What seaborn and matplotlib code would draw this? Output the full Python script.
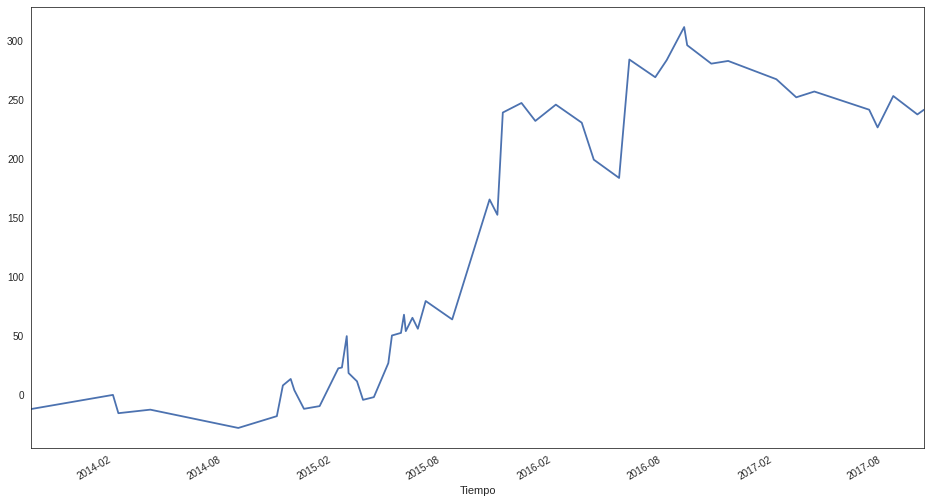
import pandas as pd
import seaborn as sns
import matplotlib
matplotlib.use("Agg")
import matplotlib.pyplot as plt
import matplotlib.dates as mdates

# values
fechas = [
    "2013-09-18", "2014-02-01", "2014-02-10", "2014-04-04", "2014-08-28",
    "2014-10-31", "2014-11-10", "2014-11-23", "2014-11-29", "2014-12-15",
    "2015-01-10", "2015-02-10", "2015-02-16", "2015-02-24", "2015-02-27",
    "2015-03-13", "2015-03-23", "2015-04-10", "2015-05-04", "2015-05-10",
    "2015-05-25", "2015-05-30", "2015-06-02", "2015-06-13", "2015-06-22",
    "2015-07-05", "2015-08-18", "2015-10-19", "2015-11-01", "2015-11-10",
    "2015-12-11", "2016-01-03", "2016-02-06", "2016-03-20", "2016-04-09",
    "2016-05-21", "2016-06-07", "2016-07-20", "2016-08-08", "2016-09-06",
    "2016-09-11", "2016-10-21", "2016-11-18", "2017-02-06", "2017-03-11",
    "2017-04-10", "2017-07-10", "2017-07-24", "2017-08-19", "2017-09-28",
    "2017-10-09",
]
valores = [
    -11.5, 0.5, -15, -12, -27.5,
    -17.5, 8.5, 14, 4.5, -11.3,
    -9, 23, 23.7, 50.3, 19,
    12, -3.7, -1.4, 27.4, 50.8,
    53, 68.4, 54.5, 65.8, 56.5,
    80, 64.4, 166, 153, 239.6,
    247.7, 232.5, 246.3, 231, 199.7,
    184.2, 284.5, 269.5, 284, 312,
    296.6, 281, 283.3, 267.8, 252.5,
    257.4, 242, 227, 253.6, 238,
    242,
]

df = pd.DataFrame({"Tiempo": pd.to_datetime(fechas), "valor": valores})

sns.set_style("white")
plt.rcParams['font.family'] = ['Liberation Sans', 'DejaVu Sans']

fig = plt.figure(figsize=(931 / 72, 503 / 72), dpi=72)
ax = fig.add_axes([31 / 931, 55 / 503, 893 / 931, 441 / 503])

sns.lineplot(data=df, x="Tiempo", y="valor", ax=ax, color="#4C72B0", linewidth=1.8)

ax.set_xlim(df["Tiempo"].min(), df["Tiempo"].max())
ax.xaxis.set_major_locator(mdates.MonthLocator(bymonth=[2, 8]))
ax.xaxis.set_major_formatter(mdates.DateFormatter("%Y-%m"))
plt.setp(ax.get_xticklabels(), rotation=30, ha="right", fontsize=10)
plt.setp(ax.get_yticklabels(), fontsize=10)
ax.set_xlabel("Tiempo", fontsize=11)
ax.set_ylabel("")

fig.savefig("out.png", dpi=72)
